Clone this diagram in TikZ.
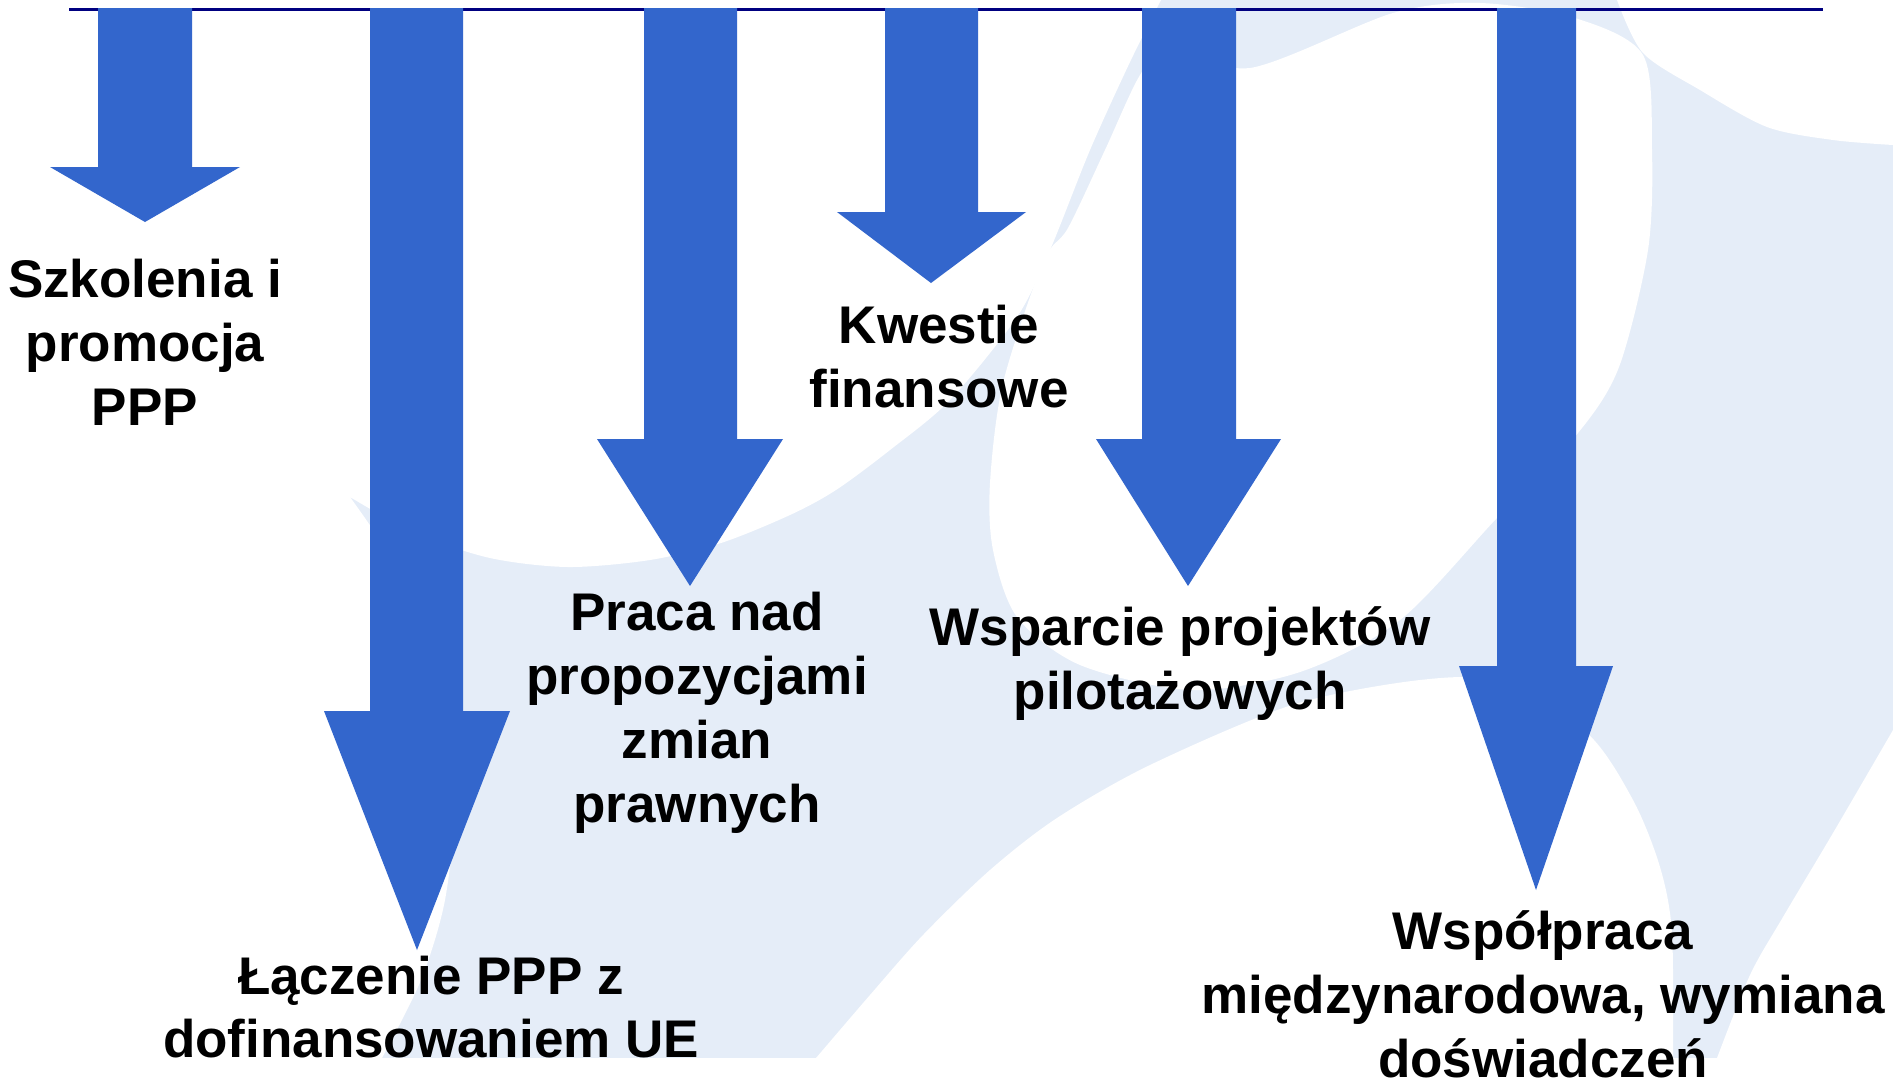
\documentclass[tikz,border=0pt]{standalone}
\usepackage{fontspec}
\setmainfont{Liberation Sans}
\definecolor{arrowblue}{RGB}{51,102,204}
\definecolor{navyline}{RGB}{0,0,128}
\definecolor{bglight}{RGB}{229,237,248}
\newcommand\blockarr[8]{%
  \fill[blockarrow] (#1,8) -- (#1,#3) -- (#4,#3) -- (#6,#7) -- (#5,#3) -- (#2,#3) -- (#2,8) -- cycle;
  \coordinate (#8) at (#6,#7);}
\begin{document}
\begin{tikzpicture}[x=1pt,y=-1pt,
  lbl/.style={anchor=base, font=\fontsize{53}{64}\selectfont\bfseries, inner sep=0pt},
  blockarrow/.style={fill=arrowblue, draw=none},
  cutout/.style={fill=white, draw=none}]
\useasboundingbox (0,0) rectangle (1893,1080);
\fill[white] (0,0) rectangle (1893,1080);
% light background
\fill[bglight] (0,0) rectangle (1893,1058);
% white bowl and left circle
\fill[cutout] (0,0) -- (1161,0) -- plot[smooth] coordinates {(1161,0) (1130,62) (1090,150) (1050,250) (1017,317) (950,400) (890,450) (836,490) (790,515) (721,543) (650,560) (568,567) (490,558) (415,533) (350,497)}
  -- plot[smooth] coordinates {(350,497) (386,550) (421,620) (445,700) (455,800) (445,900) (421,980) (382,1058)} -- (0,1058) -- cycle;
% white vertical swoosh
\fill[cutout] plot[smooth cycle] coordinates {(1043,262) (1068,228) (1105,150) (1140,75) (1170,45) (1250,68) (1393,13) (1480,3) (1575,18) (1643,55) (1652,150) (1648,250) (1619,367) (1578,433) (1496,519) (1400,620) (1300,672) (1191,690) (1080,665) (1017,617) (993,550) (990,483) (1003,383)};
% top right white
\fill[cutout] (1617,0) -- plot[smooth] coordinates {(1617,0) (1643,53) (1700,90) (1767,127) (1833,140) (1893,145)} -- (1893,0) -- cycle;
% white arch
\fill[cutout] plot[smooth] coordinates {(816,1058) (870,995) (923,935) (990,870) (1057,818) (1150,765) (1292,705) (1420,680) (1500,682) (1587,733) (1633,800) (1660,867) (1672,933) (1673,1058)} -- cycle;
% bottom right white
\fill[cutout] plot[smooth] coordinates {(1717,1058) (1750,975) (1783,917) (1833,833) (1893,730)} -- (1893,1058) -- cycle;
% top line
\draw[navyline, line width=3pt] (69,9.5) -- (1823,9.5);
% arrows
\blockarr{98}{192}{167}{50}{240}{145}{222}{tipA}
\blockarr{370}{463}{711}{324}{510}{417}{950}{tipB}
\blockarr{644}{737}{439}{597}{783}{690}{586}{tipC}
\blockarr{885}{978}{212}{837}{1026}{931}{283}{tipD}
\blockarr{1142}{1236}{439}{1096}{1281}{1188}{586}{tipE}
\blockarr{1497}{1576}{666}{1459}{1613}{1536}{890}{tipF}
% labels
\node[lbl] (a1) at (145,297) {Szkolenia i};
\node[lbl] (a2) at (145,361) {promocja};
\node[lbl] (a3) at (145,425) {PPP};
\node[lbl] (b1) at (431,994) {Łączenie PPP z};
\node[lbl] (b2) at (431,1057) {dofinansowaniem UE};
\node[lbl] (c1) at (697,630) {Praca nad};
\node[lbl] (c2) at (697,694) {propozycjami};
\node[lbl] (c3) at (697,758) {zmian};
\node[lbl] (c4) at (697,822) {prawnych};
\node[lbl] (d1) at (939,343) {Kwestie};
\node[lbl] (d2) at (939,407) {finansowe};
\node[lbl] (e1) at (1180,645) {Wsparcie projektów};
\node[lbl] (e2) at (1180,709) {pilotażowych};
\node[lbl] (f1) at (1543,949) {Współpraca};
\node[lbl] (f2) at (1543,1013) {międzynarodowa, wymiana};
\node[lbl] (f3) at (1543,1077) {doświadczeń};
\end{tikzpicture}
\end{document}
